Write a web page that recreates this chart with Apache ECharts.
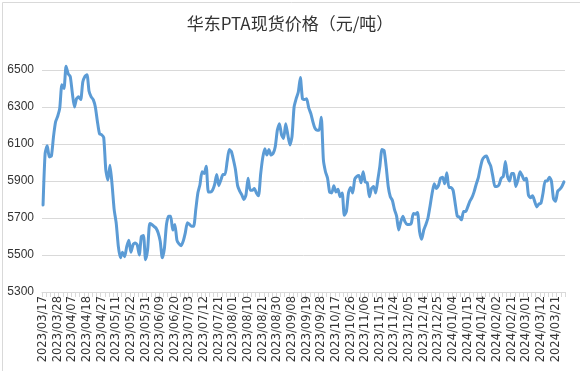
<!DOCTYPE html>
<html>
<head>
<meta charset="utf-8">
<script src="https://cdn.jsdelivr.net/npm/echarts@6/dist/echarts.min.js"></script>
<style>
html,body{margin:0;padding:0;background:#fff;}
#chart{width:580px;height:371px;}
</style>
</head>
<body>
<div id="chart"></div>
<script>
// Chart title
var chartTitle = '华东PTA现货价格（元/吨）';
// Trading calendar: first day, number of trading days, exchange holidays (weekdays)
var startDate = '2023-03-17';
var dayCount = 250;
var holidays = ['2023-04-05','2023-05-01','2023-05-02','2023-05-03','2023-06-22','2023-06-23',
  '2023-09-29','2023-10-02','2023-10-03','2023-10-04','2023-10-05','2023-10-06',
  '2024-01-01','2024-02-09','2024-02-12','2024-02-13','2024-02-14','2024-02-15','2024-02-16'];
// Y axis ticks
var yMin = 5300, yMax = 6500, yStep = 200;
// PTA spot price (yuan/ton), one value per trading day
var prices = [
  5770, 6050, 6090, 6030, 6035, 6140, 6220, 6250, 6295, 6420,
  6400, 6520, 6480, 6465, 6375, 6300, 6345, 6355, 6340, 6435,
  6465, 6475, 6385, 6355, 6340, 6300, 6220, 6155, 6150, 6135,
  5960, 5905, 5985, 5880, 5745, 5670, 5545, 5485, 5515, 5490,
  5545, 5580, 5515, 5555, 5565, 5555, 5500, 5600, 5605, 5475,
  5530, 5670, 5665, 5655, 5645, 5620, 5575, 5485, 5535, 5665,
  5710, 5710, 5635, 5665, 5580, 5560, 5550, 5575, 5620, 5675,
  5665, 5655, 5655, 5745, 5835, 5880, 5950, 5940, 5980, 5840,
  5840, 5850, 5880, 5935, 5875, 5905, 5935, 5935, 6005, 6070,
  6060, 6015, 5960, 5875, 5845, 5825, 5800, 5825, 5915, 5850,
  5850, 5860, 5835, 5820, 5935, 6025, 6075, 6040, 6070, 6040,
  6050, 6085, 6175, 6210, 6150, 6130, 6210, 6150, 6095, 6140,
  6300, 6345, 6380, 6460, 6345, 6340, 6345, 6295, 6265, 6220,
  6185, 6175, 6175, 6245, 6015, 5950, 5915, 5840, 5835, 5875,
  5840, 5855, 5815, 5835, 5715, 5735, 5835, 5865, 5835, 5910,
  5925, 5930, 5890, 5950, 5895, 5890, 5815, 5860, 5870, 5835,
  5905, 5980, 6070, 6065, 5980, 5870, 5815, 5795, 5745, 5710,
  5635, 5680, 5710, 5680, 5665, 5665, 5670, 5725, 5720, 5730,
  5625, 5585, 5635, 5665, 5700, 5765, 5835, 5885, 5860, 5875,
  5915, 5920, 5885, 5945, 5865, 5865, 5850, 5780, 5710, 5705,
  5690, 5735, 5735, 5760, 5790, 5810, 5840, 5880, 5915, 5970,
  6015, 6030, 6035, 6005, 5980, 5925, 5870, 5870, 5880, 5915,
  5925, 6005, 5925, 5900, 5940, 5940, 5870, 5905, 5950, 5930,
  5905, 5915, 5825, 5810, 5820, 5790, 5760, 5775, 5780, 5835,
  5900, 5900, 5920, 5900, 5805, 5790, 5845, 5855, 5870, 5895
];

function pad(n){return (n<10?'0':'')+n;}
function buildDates(){
  var out = [];
  var d = new Date(startDate + 'T00:00:00Z');
  while (out.length < dayCount) {
    var iso = d.getUTCFullYear()+'-'+pad(d.getUTCMonth()+1)+'-'+pad(d.getUTCDate());
    var wd = d.getUTCDay();
    if (wd !== 0 && wd !== 6 && holidays.indexOf(iso) < 0) {
      out.push(iso.replace(/-/g,'/'));
    }
    d.setUTCDate(d.getUTCDate()+1);
  }
  return out;
}
var dates = buildDates();

var chart = echarts.init(document.getElementById('chart'), null, {renderer:'canvas'});
chart.setOption({
  animation: false,
  backgroundColor: '#ffffff',
  title: {
    text: chartTitle,
    left: 'center',
    top: 10,
    textStyle: {fontFamily: '"Noto Sans CJK SC", sans-serif', fontSize: 17, fontWeight: 'normal', color: '#333333'}
  },
  graphic: [{
    type: 'rect', left: 0, top: 0, z: -1,
    shape: {x: 0.5, y: 0.5, width: 578, height: 369},
    style: {fill: 'none', stroke: '#d9d9d9', lineWidth: 1},
    silent: true
  }],
  grid: {left: 42, right: 15, top: 70, bottom: 79, containLabel: false},
  xAxis: {
    type: 'category',
    data: dates,
    boundaryGap: true,
    axisLine: {lineStyle: {color: '#d9d9d9'}},
    axisTick: {show: true, interval: 1, length: 5, lineStyle: {color: '#d9d9d9'}},
    axisLabel: {
      interval: 6, rotate: 90, margin: 4,
      fontFamily: '"DejaVu Sans", sans-serif', fontSize: 11.5, color: '#333333'
    },
    splitLine: {show: false}
  },
  yAxis: {
    type: 'value',
    min: yMin, max: yMax, interval: yStep,
    axisLine: {show: false},
    axisTick: {show: false},
    axisLabel: {
      margin: 8, fontFamily: '"Liberation Sans", sans-serif', fontSize: 12, color: '#333333',
      formatter: function (v) { return String(v); }
    },
    splitLine: {lineStyle: {color: '#d9d9d9', width: 1}}
  },
  series: [{
    type: 'line',
    data: prices,
    clip: false,
    showSymbol: false,
    symbol: 'none',
    smooth: 0.2,
    lineStyle: {color: '#5b9bd5', width: 3, cap: 'round', join: 'round'}
  }]
});
</script>
</body>
</html>
